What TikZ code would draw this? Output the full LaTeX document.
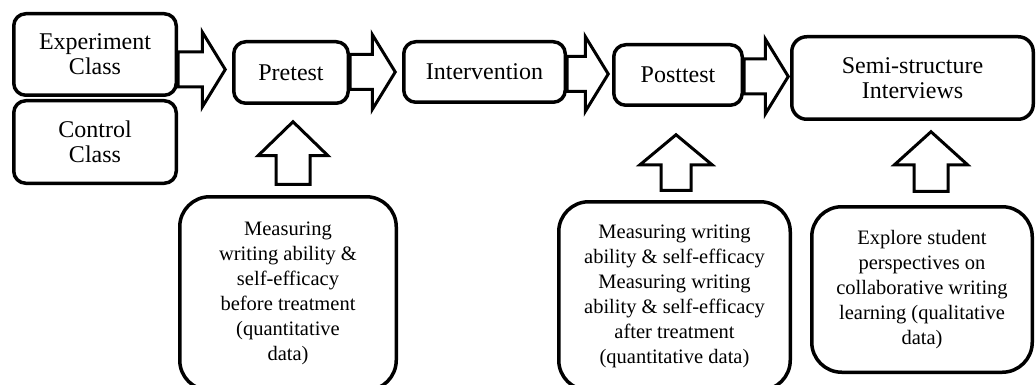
\documentclass[tikz,border=0pt]{standalone}
\usepackage{fontspec}
\setmainfont{Liberation Serif}
\usetikzlibrary{calc}

\begin{document}
\begin{tikzpicture}[
  x=1pt, y=-1pt,
  every node/.style={align=center, inner sep=0pt},
  box/.style={draw, line width=3.5pt, rounded corners=12pt, font=\fontsize{24}{25}\selectfont},
  bigbox/.style={draw, line width=3.5pt, rounded corners=30pt, font=\fontsize{20.5}{25}\selectfont},
  harrow/.style={line width=3pt, to path={
    let \p1=(\tikztostart), \p2=(\tikztotarget) in
    (\x1,\y2+17.5pt) -- (\x2-23pt,\y2+17.5pt) -- (\x2-23pt,\y2+37.5pt) -- (\x2,\y2)
    -- (\x2-23pt,\y2-37.5pt) -- (\x2-23pt,\y2-17.5pt) -- (\x1,\y2-17.5pt) -- cycle}},
  varrow/.style args={#1/#2/#3}{line width=3pt, to path={
    let \p1=(\tikztostart), \p2=(\tikztotarget) in
    (\x2-#1,\y1) -- (\x2-#1,\y2-#3) -- (\x2-#2,\y2-#3) -- (\x2,\y2)
    -- (\x2+#2,\y2-#3) -- (\x2+#1,\y2-#3) -- (\x2+#1,\y1) -- cycle}}
]
\useasboundingbox (0,0) rectangle (1036,385);

% top row
\node[box, minimum width=162.5pt, minimum height=81.5pt] (expclass) at (95,54.5) {Experiment\\Class};
\node[box, minimum width=162.5pt, minimum height=82.5pt] (ctrlclass) at (95,142) {Control\\Class};
\node[box, minimum width=114.5pt, minimum height=61.5pt] (pretest) at (291,72.5) {Pretest};
\node[box, minimum width=161.5pt, minimum height=60.5pt] (intervention) at (484.5,72) {Intervention};
\node[box, minimum width=128.5pt, minimum height=60.5pt] (posttest) at (678,75) {Posttest};
\node[box, rounded corners=15pt, minimum width=241.5pt, minimum height=82.5pt] (interviews) at (912.5,78) {Semi-structure\\Interviews};

% notes
\node[bigbox, minimum width=216.5pt, minimum height=193.5pt] (pretestnote) at (288,293.5)
  {Measuring\\writing ability \&\\self-efficacy\\before treatment\\(quantitative\\data)};
\node[bigbox, minimum width=231.5pt, minimum height=188.5pt] (posttestnote) at (674.5,296)
  {Measuring writing\\ability \& self-efficacy\\Measuring writing\\ability \& self-efficacy\\after treatment\\(quantitative data)};
\node[bigbox, minimum width=220.5pt, minimum height=165.5pt] (interviewnote) at (922,289.5)
  {Explore student\\perspectives on\\collaborative writing\\learning (qualitative\\data)};

% block arrows
\draw[harrow] (expclass.east) to ([xshift=-6.75pt,yshift=3pt]pretest.west);
\draw[harrow] (pretest.east) to ([xshift=-6.75pt]intervention.west);
\draw[harrow] (intervention.east) to ([xshift=-3.75pt,yshift=1pt]posttest.west);
\draw[harrow] (posttest.east) to ([xshift=-1.75pt,yshift=1.5pt]interviews.west);

\draw[varrow=17pt/35pt/34pt] ([yshift=10.75pt]pretestnote.north) to ([xshift=2pt,yshift=-16.75pt]pretest.south);
\draw[varrow=15pt/36pt/30pt] ([yshift=9.75pt]posttestnote.north) to ([xshift=-2pt,yshift=-27.75pt]posttest.south);
\draw[varrow=17pt/36.5pt/33pt] ([yshift=13.75pt]interviewnote.north) to ([xshift=18.5pt,yshift=-10.75pt]interviews.south);
\end{tikzpicture}
\end{document}
